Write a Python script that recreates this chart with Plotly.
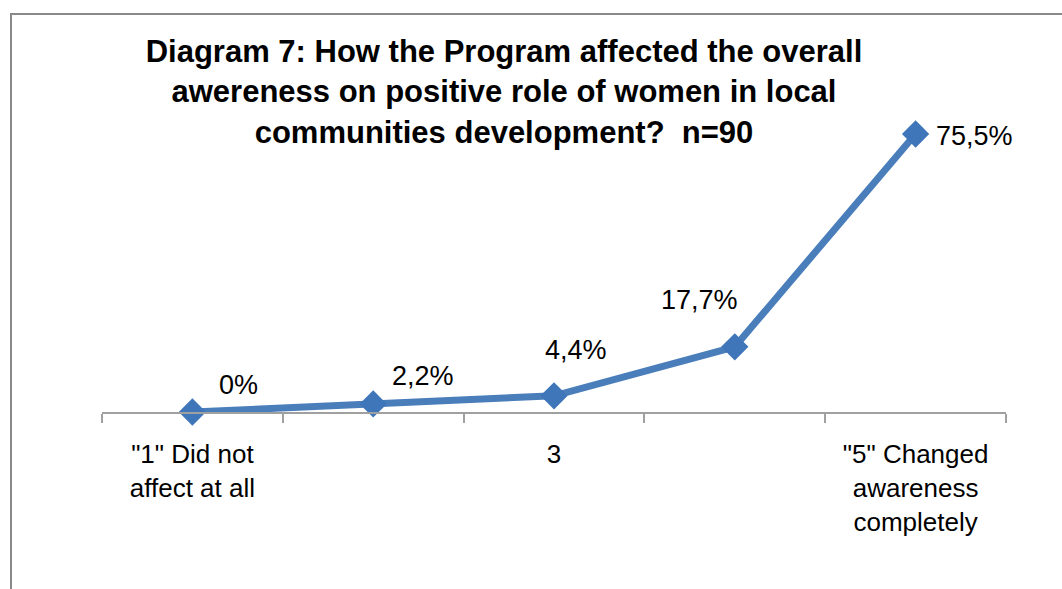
import plotly.graph_objects as go

categories = ['"1" Did not<br>affect at all', '', '3', '', '"5" Changed<br>awareness<br>completely']
values = [0, 2.2, 4.4, 17.7, 75.5]
value_labels = ['0%', '2,2%', '4,4%', '17,7%', '75,5%']
title_text = ('Diagram 7: How the Program affected the overall<br>'
              'awereness on positive role of women in local<br>'
              'communities development?  n=90')

# label offsets (pixels) — styling only
label_dx = [46, 50, 22, -35, 59]
label_dy = [-27, -28, -46, -47, 2]

W, H = 1062, 589
ML, MR, MT, MB = 102, 56, 100, 177
px_per_unit = (412 - 134) / 75.5
yrange_max = (H - MT - MB) / px_per_unit

FONT = 'Liberation Sans, Arial, sans-serif'
xpos = list(range(len(categories)))

fig = go.Figure()
fig.add_trace(go.Scatter(
    x=xpos, y=values, mode='lines+markers',
    line=dict(color='#4a7ebb', width=7),
    marker=dict(symbol='diamond', size=21, color='#3f75b9',
                line=dict(width=0)),
    hoverinfo='skip', showlegend=False, cliponaxis=False,
))
# invisible trace for boundary ticks axis
fig.add_trace(go.Scatter(x=[-0.5, len(categories) - 0.5], y=[0, 0], xaxis='x2',
                         mode='markers', marker=dict(opacity=0),
                         hoverinfo='skip', showlegend=False))

for i, (v, t) in enumerate(zip(values, value_labels)):
    fig.add_annotation(x=xpos[i], y=v, text=t, showarrow=False,
                       xshift=label_dx[i], yshift=-label_dy[i],
                       font=dict(family=FONT, size=27, color='#000000'))

fig.update_layout(
    width=W, height=H,
    margin=dict(l=ML, r=MR, t=MT, b=MB),
    paper_bgcolor='white', plot_bgcolor='white',
    title=dict(text=title_text, x=504 / W, xanchor='center', xref='container',
               y=1 - 62 / H, yanchor='top', yref='container',
               font=dict(family=FONT, size=31, color='#000000', weight='bold')),
    xaxis=dict(range=[-0.5, len(categories) - 0.5], tickvals=xpos, ticktext=categories,
               showgrid=False, zeroline=False, showline=False, ticks='',
               tickfont=dict(family=FONT, size=26, color='#000000'),
               ticklabelstandoff=24),
    xaxis2=dict(range=[-0.5, len(categories) - 0.5], overlaying='x', anchor='y',
                tickvals=[i - 0.5 for i in range(len(categories) + 1)],
                ticks='outside', ticklen=9, tickwidth=1.5, tickcolor='#a0a0a0',
                showticklabels=False, showgrid=False, zeroline=False,
                showline=True, linecolor='#a0a0a0', linewidth=1.5, side='bottom'),
    yaxis=dict(range=[0, yrange_max], visible=False, showgrid=False, zeroline=False),
    shapes=[dict(type='rect', xref='paper', yref='paper',
                 x0=(11 - ML) / (W - ML - MR), x1=(W + 10 - ML) / (W - ML - MR),
                 y0=(H - MB - (H + 10)) / (H - MT - MB), y1=(H - MB - 14) / (H - MT - MB),
                 line=dict(color='#898989', width=2), fillcolor='rgba(0,0,0,0)',
                 layer='below')],
)

fig.write_html('out.html', config={'displayModeBar': False},
               post_script="document.body.style.margin='0';")
